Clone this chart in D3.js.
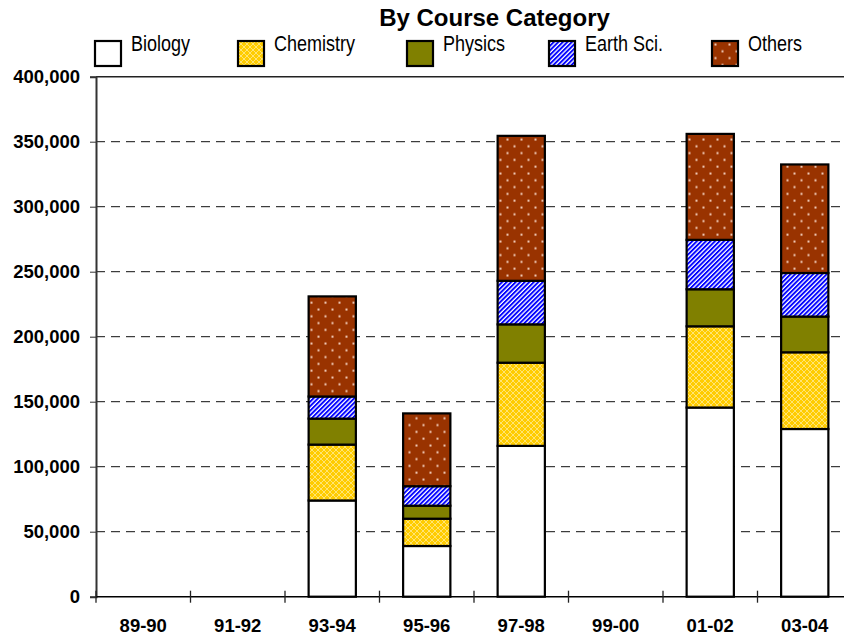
<!DOCTYPE html>
<html>
<head>
<meta charset="utf-8">
<script src="https://cdn.jsdelivr.net/npm/d3@7"></script>
<style>
  body { margin: 0; background: #fff; }
  svg { display: block; }
</style>
</head>
<body>
<script>
// chart data
const categories = ['89-90', '91-92', '93-94', '95-96', '97-98', '99-00', '01-02', '03-04'];
const biology   = [0, 0, 74000, 39000, 116000, 0, 145500, 129000];
const chemistry = [0, 0, 43000, 21000, 64000, 0, 62500, 59000];
const physics   = [0, 0, 20000, 10000, 29500, 0, 28500, 27500];
const earthSci  = [0, 0, 17000, 15000, 33500, 0, 38000, 33500];
const others    = [0, 0, 77000, 56000, 111500, 0, 81500, 83500];
const seriesNames = ['Biology', 'Chemistry', 'Physics', 'Earth Sci.', 'Others'];
const yTicks = [0, 50000, 100000, 150000, 200000, 250000, 300000, 350000, 400000];

let width = 844, height = 640;
let plotLeft = 96, plotRight = 852, plotTop = 76.7, plotBottom = 596.7;

let svg = d3.select('body').append('svg')
    .attr('width', width)
    .attr('height', height);

// patterns
let defs = svg.append('defs');

let chem = defs.append('pattern').attr('id', 'p-chem')
    .attr('patternUnits', 'userSpaceOnUse').attr('width', 6).attr('height', 6);
chem.append('rect').attr('width', 6).attr('height', 6).attr('fill', '#FFCC00');
chem.append('path').attr('d', 'M0,0L6,6M6,0L0,6')
    .attr('stroke', '#FFE680').attr('stroke-width', 0.9);

let earth = defs.append('pattern').attr('id', 'p-earth')
    .attr('patternUnits', 'userSpaceOnUse').attr('width', 3.2).attr('height', 3.2)
    .attr('patternTransform', 'rotate(45)');
earth.append('rect').attr('width', 3.2).attr('height', 3.2).attr('fill', '#fff');
earth.append('rect').attr('width', 1.9).attr('height', 3.2).attr('fill', '#0000FF');

let oth = defs.append('pattern').attr('id', 'p-others')
    .attr('patternUnits', 'userSpaceOnUse').attr('width', 14).attr('height', 13.6);
oth.append('rect').attr('width', 14).attr('height', 13.6).attr('fill', '#993300');
oth.append('rect').attr('x', 2.5).attr('y', 2.5).attr('width', 2).attr('height', 2).attr('fill', '#F2CDBB');
oth.append('rect').attr('x', 9.5).attr('y', 9.3).attr('width', 2).attr('height', 2).attr('fill', '#F2CDBB');

const fills = ['#ffffff', 'url(#p-chem)', '#808000', 'url(#p-earth)', 'url(#p-others)'];

// scales
let x = d3.scaleBand()
    .domain(categories)
    .range([plotLeft, plotRight])
    .paddingInner(0.5)
    .paddingOuter(0.25);

let y = d3.scaleLinear()
    .domain([0, 400000])
    .range([plotBottom, plotTop]);

// gridlines
svg.append('g')
    .selectAll('line')
    .data(yTicks.filter(d => d > 0 && d < 400000))
    .join('line')
    .attr('x1', plotLeft).attr('x2', plotRight)
    .attr('y1', d => y(d)).attr('y2', d => y(d))
    .attr('stroke', '#111')
    .attr('stroke-width', 1)
    .attr('stroke-dasharray', '9,6');

svg.append('line')
    .attr('x1', plotLeft).attr('x2', plotRight)
    .attr('y1', y(400000)).attr('y2', y(400000))
    .attr('stroke', '#222').attr('stroke-width', 1.5);

// stacked bars
let table = categories.map((c, i) => ({
    cat: c,
    Biology: biology[i],
    Chemistry: chemistry[i],
    Physics: physics[i],
    'Earth Sci.': earthSci[i],
    Others: others[i]
}));

let stacked = d3.stack().keys(seriesNames)(table);

svg.append('g')
    .selectAll('g')
    .data(stacked)
    .join('g')
    .attr('fill', (d, i) => fills[i])
    .selectAll('rect')
    .data(d => d.filter(s => s[1] - s[0] > 0))
    .join('rect')
    .attr('x', d => x(d.data.cat))
    .attr('width', x.bandwidth())
    .attr('y', d => y(d[1]))
    .attr('height', d => y(d[0]) - y(d[1]))
    .attr('stroke', '#000')
    .attr('stroke-width', 2.2);

// y axis
let yAxis = svg.append('g')
    .attr('transform', 'translate(' + plotLeft + ',0)')
    .call(d3.axisLeft(y).tickValues(yTicks).tickFormat(d3.format(',')).tickSize(6).tickPadding(10));
yAxis.select('.domain').attr('stroke', '#333').attr('stroke-width', 2);
yAxis.selectAll('.tick line').attr('stroke', '#333');
yAxis.selectAll('text')
    .attr('font-family', 'Liberation Sans, Arial, sans-serif')
    .attr('font-weight', 'bold')
    .attr('font-size', 18.5)
    .attr('fill', '#000');

// x axis labels
let xAxis = svg.append('g')
    .attr('transform', 'translate(0,' + plotBottom + ')')
    .call(d3.axisBottom(x).tickSize(0).tickPadding(22));
xAxis.select('.domain').remove();
xAxis.selectAll('text')
    .attr('font-family', 'Liberation Sans, Arial, sans-serif')
    .attr('font-weight', 'bold')
    .attr('font-size', 18.5)
    .attr('fill', '#000');

// x axis line and category separators
svg.append('line')
    .attr('x1', plotLeft).attr('x2', plotRight)
    .attr('y1', plotBottom).attr('y2', plotBottom)
    .attr('stroke', '#000').attr('stroke-width', 1.5);

svg.append('g')
    .selectAll('line')
    .data(d3.range(categories.length + 1))
    .join('line')
    .attr('x1', i => plotLeft + i * x.step())
    .attr('x2', i => plotLeft + i * x.step())
    .attr('y1', plotBottom - 6).attr('y2', plotBottom + 6)
    .attr('stroke', '#222').attr('stroke-width', 1.3);

// title
svg.append('text')
    .attr('x', 494.5)
    .attr('y', 26)
    .attr('text-anchor', 'middle')
    .attr('font-family', 'Liberation Sans, Arial, sans-serif')
    .attr('font-weight', 'bold')
    .attr('font-size', 24)
    .text('By Course Category');

// legend
const legendX = [95, 238, 407, 549, 712];
let legend = svg.append('g')
    .selectAll('g')
    .data(seriesNames)
    .join('g')
    .attr('transform', (d, i) => 'translate(' + legendX[i] + ',41)');

legend.append('rect')
    .attr('width', 26)
    .attr('height', 25)
    .attr('fill', (d, i) => fills[i])
    .attr('stroke', '#000')
    .attr('stroke-width', 2.2);

legend.append('text')
    .attr('transform', 'translate(36,10) scale(0.8,1)')
    .attr('font-family', 'Liberation Sans, Arial, sans-serif')
    .attr('font-size', 22.5)
    .attr('fill', '#000')
    .text(d => d);
</script>
</body>
</html>
